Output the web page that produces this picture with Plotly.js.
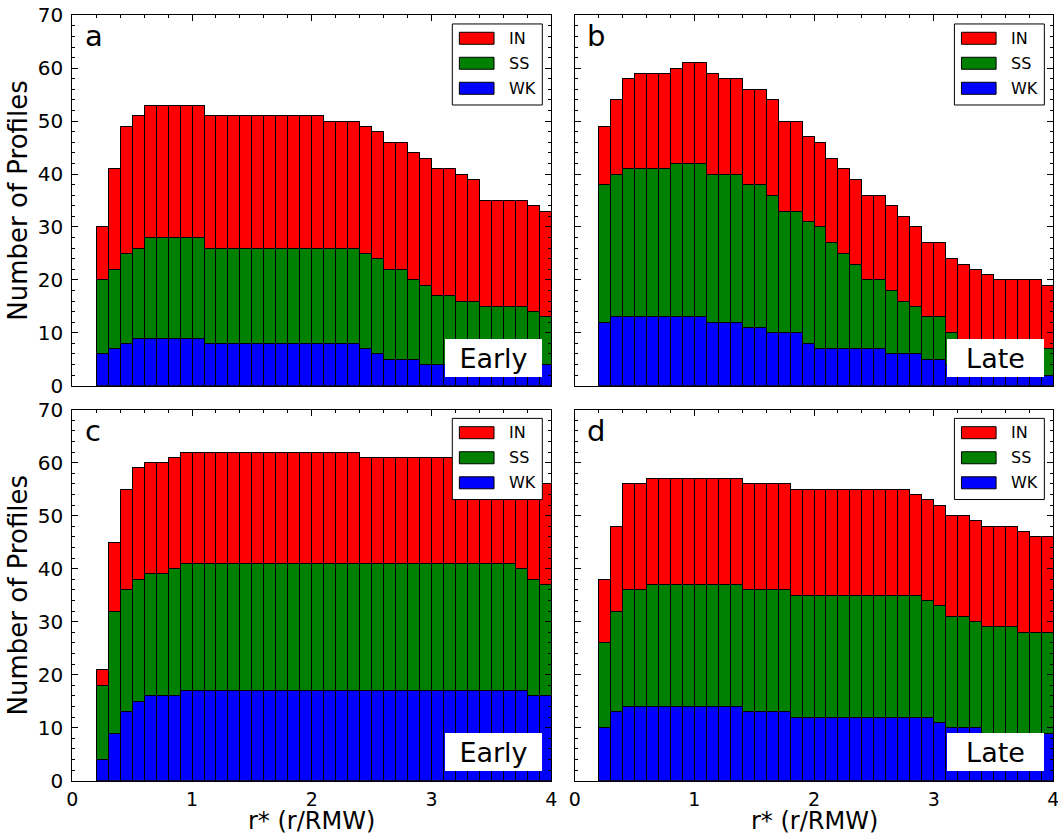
<!DOCTYPE html>
<html>
<head>
<meta charset="utf-8">
<script src="https://cdn.plot.ly/plotly-3.0.1.min.js"></script>
<style>
  html, body { margin: 0; padding: 0; background: #ffffff; }
  #chart { width: 1058px; height: 834px; }
</style>
</head>
<body>
<div id="chart"></div>
<script>
// Radial bins r* = r/RMW, 0.1 wide, from 0.2 to 4.0 (bin centres)
const rCenters = [0.25,0.35,0.45,0.55,0.65,0.75,0.85,0.95,1.05,1.15,1.25,1.35,1.45,1.55,1.65,1.75,1.85,1.95,2.05,2.15,
                  2.25,2.35,2.45,2.55,2.65,2.75,2.85,2.95,3.05,3.15,3.25,3.35,3.45,3.55,3.65,3.75,3.85,3.95];

const seriesNames = ["WK", "SS", "IN"];
const panelLetters = ["a", "b", "c", "d"];
const stageLabels = ["Early", "Late", "Early", "Late"];
const xTickLabels = ["0", "1", "2", "3", "4"];
const xTitle = "r* (r/RMW)";
const yTitle = "Number of Profiles";

// Panel a (Early)
const wkA = [6,7,8,9,9,9,9,9,9,8,8,8,8,8,8,8,8,8,8,8,8,8,7,6,5,5,5,4,4,4,3,3,3,2,2,2,3,4];
const ssA = [14,15,17,17,19,19,19,19,19,18,18,18,18,18,18,18,18,18,18,18,18,18,18,18,17,17,15,15,13,13,13,13,12,13,13,13,11,9];
const inA = [10,19,24,25,25,25,25,25,25,25,25,25,25,25,25,25,25,25,25,24,24,24,24,24,24,24,24,24,24,24,24,23,20,20,20,20,20,20];

// Panel b (Late)
const wkB = [12,13,13,13,13,13,13,13,13,12,12,12,11,11,10,10,10,8,7,7,7,7,7,7,6,6,6,5,5,4,4,3,3,3,2,2,2,2];
const ssB = [26,27,28,28,28,28,29,29,29,28,28,28,27,27,26,23,23,23,23,20,18,16,13,13,12,10,9,8,8,6,4,5,5,4,5,5,5,5];
const inB = [11,14,17,18,18,18,18,19,19,19,18,18,18,18,18,17,17,16,16,16,16,16,16,16,16,16,15,14,14,14,15,14,13,13,13,13,13,12];

// Panel c (Early)
const wkC = [4,9,13,15,16,16,16,17,17,17,17,17,17,17,17,17,17,17,17,17,17,17,17,17,17,17,17,17,17,17,17,17,17,17,17,17,16,16];
const ssC = [14,23,23,23,23,23,24,24,24,24,24,24,24,24,24,24,24,24,24,24,24,24,24,24,24,24,24,24,24,24,24,24,24,24,24,23,22,21];
const inC = [3,13,19,21,21,21,21,21,21,21,21,21,21,21,21,21,21,21,21,21,21,21,20,20,20,20,20,20,20,20,20,20,20,20,20,20,20,19];

// Panel d (Late)
const wkD = [10,13,14,14,14,14,14,14,14,14,14,14,13,13,13,13,12,12,12,12,12,12,12,12,12,12,12,12,11,10,10,10,9,9,9,9,9,9];
const ssD = [16,19,22,22,23,23,23,23,23,23,23,23,23,23,23,23,23,23,23,23,23,23,23,23,23,23,23,22,22,21,21,20,20,20,20,19,19,19];
const inD = [12,16,20,20,20,20,20,20,20,20,20,20,20,20,20,20,20,20,20,20,20,20,20,20,20,20,19,19,19,19,19,19,19,19,19,19,18,18];

const panelData = [
  [wkA, ssA, inA],
  [wkB, ssB, inB],
  [wkC, ssC, inC],
  [wkD, ssD, inD]
];

const seriesColors = { WK: "#0000ff", SS: "#008000", IN: "#ff0000" };
const FONT = "DejaVu Sans, Liberation Sans, sans-serif";

// Subplot geometry (paper fractions)
const xDomains = [[0.0683, 0.5211], [0.5432, 0.9956], [0.0683, 0.5211], [0.5432, 0.9956]];
const yDomains = [[0.5375, 0.9817], [0.5375, 0.9817], [0.0639, 0.5088], [0.0639, 0.5088]];

const traces = [];
panelData.forEach((series, p) => {
  const sfx = p === 0 ? "" : String(p + 1);
  series.forEach((vals, s) => {
    const name = seriesNames[s];
    traces.push({
      type: "bar",
      x: rCenters,
      y: vals,
      width: 0.1,
      name: name,
      xaxis: "x" + sfx,
      yaxis: "y" + sfx,
      showlegend: false,
      hoverinfo: "skip",
      marker: { color: seriesColors[name], line: { color: "#000000", width: 1 } }
    });
  });
});

const layout = {
  width: 1058,
  height: 834,
  margin: { l: 0, r: 0, t: 0, b: 0 },
  paper_bgcolor: "#ffffff",
  plot_bgcolor: "#ffffff",
  barmode: "stack",
  bargap: 0,
  showlegend: false,
  font: { family: FONT, color: "#000000", size: 20 },
  shapes: [],
  annotations: []
};

function xAxisDef(p) {
  const bottom = p >= 2;
  return {
    domain: xDomains[p],
    anchor: "y" + (p === 0 ? "" : p + 1),
    range: [0, 4],
    tickvals: [0, 1, 2, 3, 4],
    ticktext: xTickLabels,
    showticklabels: bottom,
    ticklabeloverflow: "allow",
    ticks: "inside",
    ticklen: 6,
    tickwidth: 1,
    tickcolor: "#000000",
    ticklabelstandoff: 1,
    minor: { ticks: "inside", dtick: 0.2, ticklen: 3, tickwidth: 1, tickcolor: "#000000", showgrid: false },
    showline: true,
    linecolor: "#000000",
    linewidth: 1,
    mirror: "ticks",
    showgrid: false,
    zeroline: false,
    fixedrange: true,
    tickfont: { family: FONT, size: 19, color: "#000000" },
    title: { text: "" }
  };
}

function yAxisDef(p) {
  const left = p % 2 === 0;
  return {
    domain: yDomains[p],
    anchor: "x" + (p === 0 ? "" : p + 1),
    range: [0, 70],
    dtick: 10,
    showticklabels: left,
    ticklabeloverflow: "allow",
    ticks: "inside",
    ticklen: 6,
    tickwidth: 1,
    tickcolor: "#000000",
    ticklabelstandoff: 4,
    minor: { ticks: "inside", dtick: 2, ticklen: 3, tickwidth: 1, tickcolor: "#000000", showgrid: false },
    showline: true,
    linecolor: "#000000",
    linewidth: 1,
    mirror: "ticks",
    showgrid: false,
    zeroline: false,
    fixedrange: true,
    tickfont: { family: FONT, size: 20, color: "#000000" },
    title: left ? { text: yTitle, font: { family: FONT, size: 26, color: "#000000" }, standoff: 2 } : { text: "" }
  };
}

for (let p = 0; p < 4; p++) {
  const sfx = p === 0 ? "" : String(p + 1);
  layout["xaxis" + sfx] = xAxisDef(p);
  layout["yaxis" + sfx] = yAxisDef(p);

  const xr = "x" + sfx + " domain";
  const yr = "y" + sfx + " domain";

  // x-axis title under the bottom row, centred on the panel
  if (p >= 2) {
    layout.annotations.push({
      xref: xr, yref: "paper", x: 0.5, y: 0.0156, xanchor: "center", yanchor: "middle",
      text: xTitle, showarrow: false, borderpad: 0,
      font: { family: FONT, size: 24, color: "#000000" }
    });
  }

  // Panel letter
  layout.annotations.push({
    xref: xr, yref: yr, x: 0.022, y: 0.995, xanchor: "left", yanchor: "top",
    text: panelLetters[p], showarrow: false,
    font: { family: FONT, size: 29, color: "#000000" }
  });

  // Stage label on a white box
  layout.annotations.push({
    xref: xr, yref: yr, x: 0.8783, y: 0.0761, xanchor: "center", yanchor: "middle",
    text: stageLabels[p], showarrow: false,
    bgcolor: "#ffffff", borderpad: 0, borderwidth: 0,
    width: 97, height: 38, align: "center", valign: "middle",
    font: { family: FONT, size: 27, color: "#000000" }
  });

  // Legend frame
  layout.shapes.push({
    type: "rect", xref: xr, yref: yr, x0: 0.7933, x1: 0.9812, y0: 0.7578, y1: 0.9765,
    fillcolor: "#ffffff", line: { color: "#000000", width: 1 }
  });
  // Legend rows, top to bottom: IN, SS, WK
  const rowY = [0.9379, 0.8704, 0.8029];
  ["IN", "SS", "WK"].forEach((nm, i) => {
    layout.shapes.push({
      type: "rect", xref: xr, yref: yr, x0: 0.808, x1: 0.8804,
      y0: rowY[i] - 0.0162, y1: rowY[i] + 0.0162,
      fillcolor: seriesColors[nm], line: { color: "#000000", width: 1 }
    });
    layout.annotations.push({
      xref: xr, yref: yr, x: 0.907, y: rowY[i], xanchor: "left", yanchor: "middle",
      text: nm, showarrow: false,
      font: { family: FONT, size: 16, color: "#000000" }
    });
  });
}

Plotly.newPlot("chart", traces, layout, { displayModeBar: false, staticPlot: true });
</script>
</body>
</html>
